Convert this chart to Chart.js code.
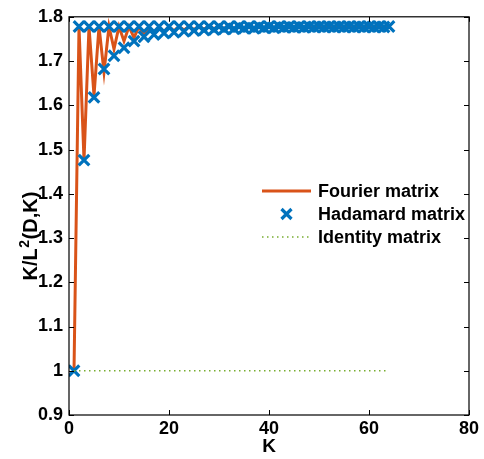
<!DOCTYPE html>
<html><head><meta charset="utf-8">
<script src="https://cdn.jsdelivr.net/npm/chart.js@4.4.0/dist/chart.umd.min.js"></script>
<style>html,body{margin:0;padding:0;background:#fff}#wrap{width:484px;height:459px;position:relative}</style>
</head><body><div id="wrap"><canvas id="c"></canvas></div>
<script>
const K = [1,2,3,4,5,6,7,8,9,10,11,12,13,14,15,16,17,18,19,20,21,22,23,24,25,26,27,28,29,30,31,32,
  33,34,35,36,37,38,39,40,41,42,43,44,45,46,47,48,49,50,51,52,53,54,55,56,57,58,59,60,61,62,63,64];
const fourier = [1.000,1.778,1.476,1.778,1.622,1.778,1.675,1.778,1.727,1.778,1.745,1.778,1.753,1.778,1.758,1.778,
  1.763,1.778,1.766,1.778,1.768,1.778,1.770,1.778,1.771,1.778,1.772,1.778,1.773,1.778,1.774,1.778,
  1.774,1.778,1.775,1.778,1.775,1.778,1.776,1.778,1.776,1.778,1.776,1.778,1.777,1.778,1.777,1.778,
  1.777,1.778,1.777,1.778,1.777,1.778,1.777,1.778,1.777,1.778,1.777,1.778,1.777,1.778,1.777,1.778];
const hadamard = [1.000,1.778,1.476,1.778,1.618,1.778,1.682,1.778,1.712,1.778,1.730,1.778,1.745,1.778,1.755,1.778,
  1.760,1.778,1.763,1.778,1.765,1.778,1.767,1.778,1.769,1.778,1.770,1.778,1.771,1.778,1.772,1.778,
  1.773,1.778,1.774,1.778,1.774,1.778,1.775,1.778,1.775,1.778,1.776,1.778,1.776,1.778,1.776,1.778,
  1.777,1.778,1.777,1.778,1.777,1.778,1.777,1.778,1.777,1.778,1.777,1.778,1.777,1.778,1.777,1.778];
const identity = [1,1,1,1,1,1,1,1,1,1,1,1,1,1,1,1,1,1,1,1,1,1,1,1,1,1,1,1,1,1,1,1,
  1,1,1,1,1,1,1,1,1,1,1,1,1,1,1,1,1,1,1,1,1,1,1,1,1,1,1,1,1,1,1,1];
const xTicks = [0,20,40,60,80];
const yTicks = [0.9,1.0,1.1,1.2,1.3,1.4,1.5,1.6,1.7,1.8];
const seriesNames = ['Fourier matrix','Hadamard matrix','Identity matrix'];
const xTitle = 'K';
const yTitleParts = ['K/L', '2', '(D,K)'];

const C_F = '#D95319', C_H = '#0072BD', C_I = '#77AC30';
const FAM = '"Liberation Sans", Arial, sans-serif';
const FONT = {family:FAM, size:18, weight:'bold'};

function pts(ys){ return K.map((k,i)=>({x:k,y:ys[i]})); }

const framePlugin = {
  id:'frame',
  afterDatasetsDraw(chart){
    const {ctx, chartArea:a, scales:{x,y}} = chart;
    ctx.save();
    ctx.strokeStyle='#000'; ctx.lineWidth=1.2;
    ctx.strokeRect(a.left, a.top, a.right-a.left, a.bottom-a.top);
    ctx.lineWidth=1;
    ctx.beginPath();
    const L=5;
    xTicks.forEach(v=>{const px=Math.round(x.getPixelForValue(v))+0.5;
      ctx.moveTo(px,a.bottom); ctx.lineTo(px,a.bottom-L);
      ctx.moveTo(px,a.top); ctx.lineTo(px,a.top+L);});
    yTicks.forEach(v=>{const py=Math.round(y.getPixelForValue(v))+0.5;
      ctx.moveTo(a.left,py); ctx.lineTo(a.left+L,py);
      ctx.moveTo(a.right,py); ctx.lineTo(a.right-L,py);});
    ctx.stroke();
    ctx.restore();
  },
  afterDraw(chart){
    const ctx = chart.ctx;
    ctx.save();
    const lx0=262, lx1=311, tx=318, rows=[191,214,237];
    ctx.font = 'bold 18px ' + FAM;
    ctx.fillStyle='#000'; ctx.textBaseline='middle'; ctx.textAlign='left';
    ctx.strokeStyle=C_F; ctx.lineWidth=3;
    ctx.beginPath(); ctx.moveTo(lx0,rows[0]); ctx.lineTo(lx1,rows[0]); ctx.stroke();
    const cx=(lx0+lx1)/2, r=5;
    ctx.strokeStyle=C_H; ctx.lineWidth=3.2;
    ctx.beginPath(); ctx.moveTo(cx-r,rows[1]-r); ctx.lineTo(cx+r,rows[1]+r);
    ctx.moveTo(cx+r,rows[1]-r); ctx.lineTo(cx-r,rows[1]+r); ctx.stroke();
    ctx.strokeStyle=C_I; ctx.lineWidth=1.5; ctx.setLineDash([1.5,3.5]);
    ctx.beginPath(); ctx.moveTo(lx0,rows[2]); ctx.lineTo(lx1,rows[2]); ctx.stroke();
    ctx.setLineDash([]);
    seriesNames.forEach((n,i)=>ctx.fillText(n,tx,rows[i]+1));
    // y-axis title with superscript
    const big='bold 20px '+FAM, small='bold 14px '+FAM;
    ctx.font=big; const w0=ctx.measureText(yTitleParts[0]).width, w2=ctx.measureText(yTitleParts[2]).width;
    ctx.font=small; const w1=ctx.measureText(yTitleParts[1]).width+1;
    const total=w0+w1+w2;
    ctx.translate(30, 236); ctx.rotate(-Math.PI/2);
    ctx.textBaseline='alphabetic';
    let s=-total/2; const base=7;
    ctx.font=big; ctx.fillText(yTitleParts[0], s, base); s+=w0;
    ctx.font=small; ctx.fillText(yTitleParts[1], s+0.5, base-8); s+=w1;
    ctx.font=big; ctx.fillText(yTitleParts[2], s, base);
    ctx.restore();
  }
};

new Chart(document.getElementById('c'), {
  type:'line',
  data:{datasets:[
    {label:seriesNames[0], data:pts(fourier), borderColor:C_F, borderWidth:3, pointRadius:0, tension:0, order:3},
    {label:seriesNames[1], data:pts(hadamard), showLine:false, pointStyle:'crossRot', pointRadius:7.5,
      pointBorderWidth:3.2, borderColor:C_H, backgroundColor:C_H, pointHoverRadius:7.5, order:2},
    {label:seriesNames[2], data:pts(identity), borderColor:C_I, borderWidth:1.5, borderDash:[1.5,3.5], pointRadius:0, order:1}
  ]},
  options:{
    responsive:true, maintainAspectRatio:false, animation:false,
    layout:{padding:{top:14,right:15,left:0,bottom:0}},
    plugins:{legend:{display:false}, tooltip:{enabled:false}},
    scales:{
      x:{type:'linear', min:0, max:80,
        afterBuildTicks(s){ s.ticks = xTicks.map(v=>({value:v})); },
        afterFit(s){ s.height = 44; },
        grid:{display:false, drawTicks:false}, border:{display:false},
        ticks:{color:'#000', font:FONT, padding:3, maxRotation:0, autoSkip:false},
        title:{display:true, text:xTitle, color:'#000', font:{family:FAM, size:19, weight:'bold'}, padding:{top:0,bottom:1}}
      },
      y:{type:'linear', min:0.9, max:1.8,
        afterBuildTicks(s){ s.ticks = yTicks.map(v=>({value:v})); },
        afterFit(s){ s.width = 69; },
        grid:{display:false, drawTicks:false}, border:{display:false},
        ticks:{color:'#000', font:FONT, padding:6, autoSkip:false,
          callback:(v)=>String(Number(v.toFixed(1)))},
        title:{display:false}
      }
    }
  },
  plugins:[framePlugin]
});
</script></body></html>
